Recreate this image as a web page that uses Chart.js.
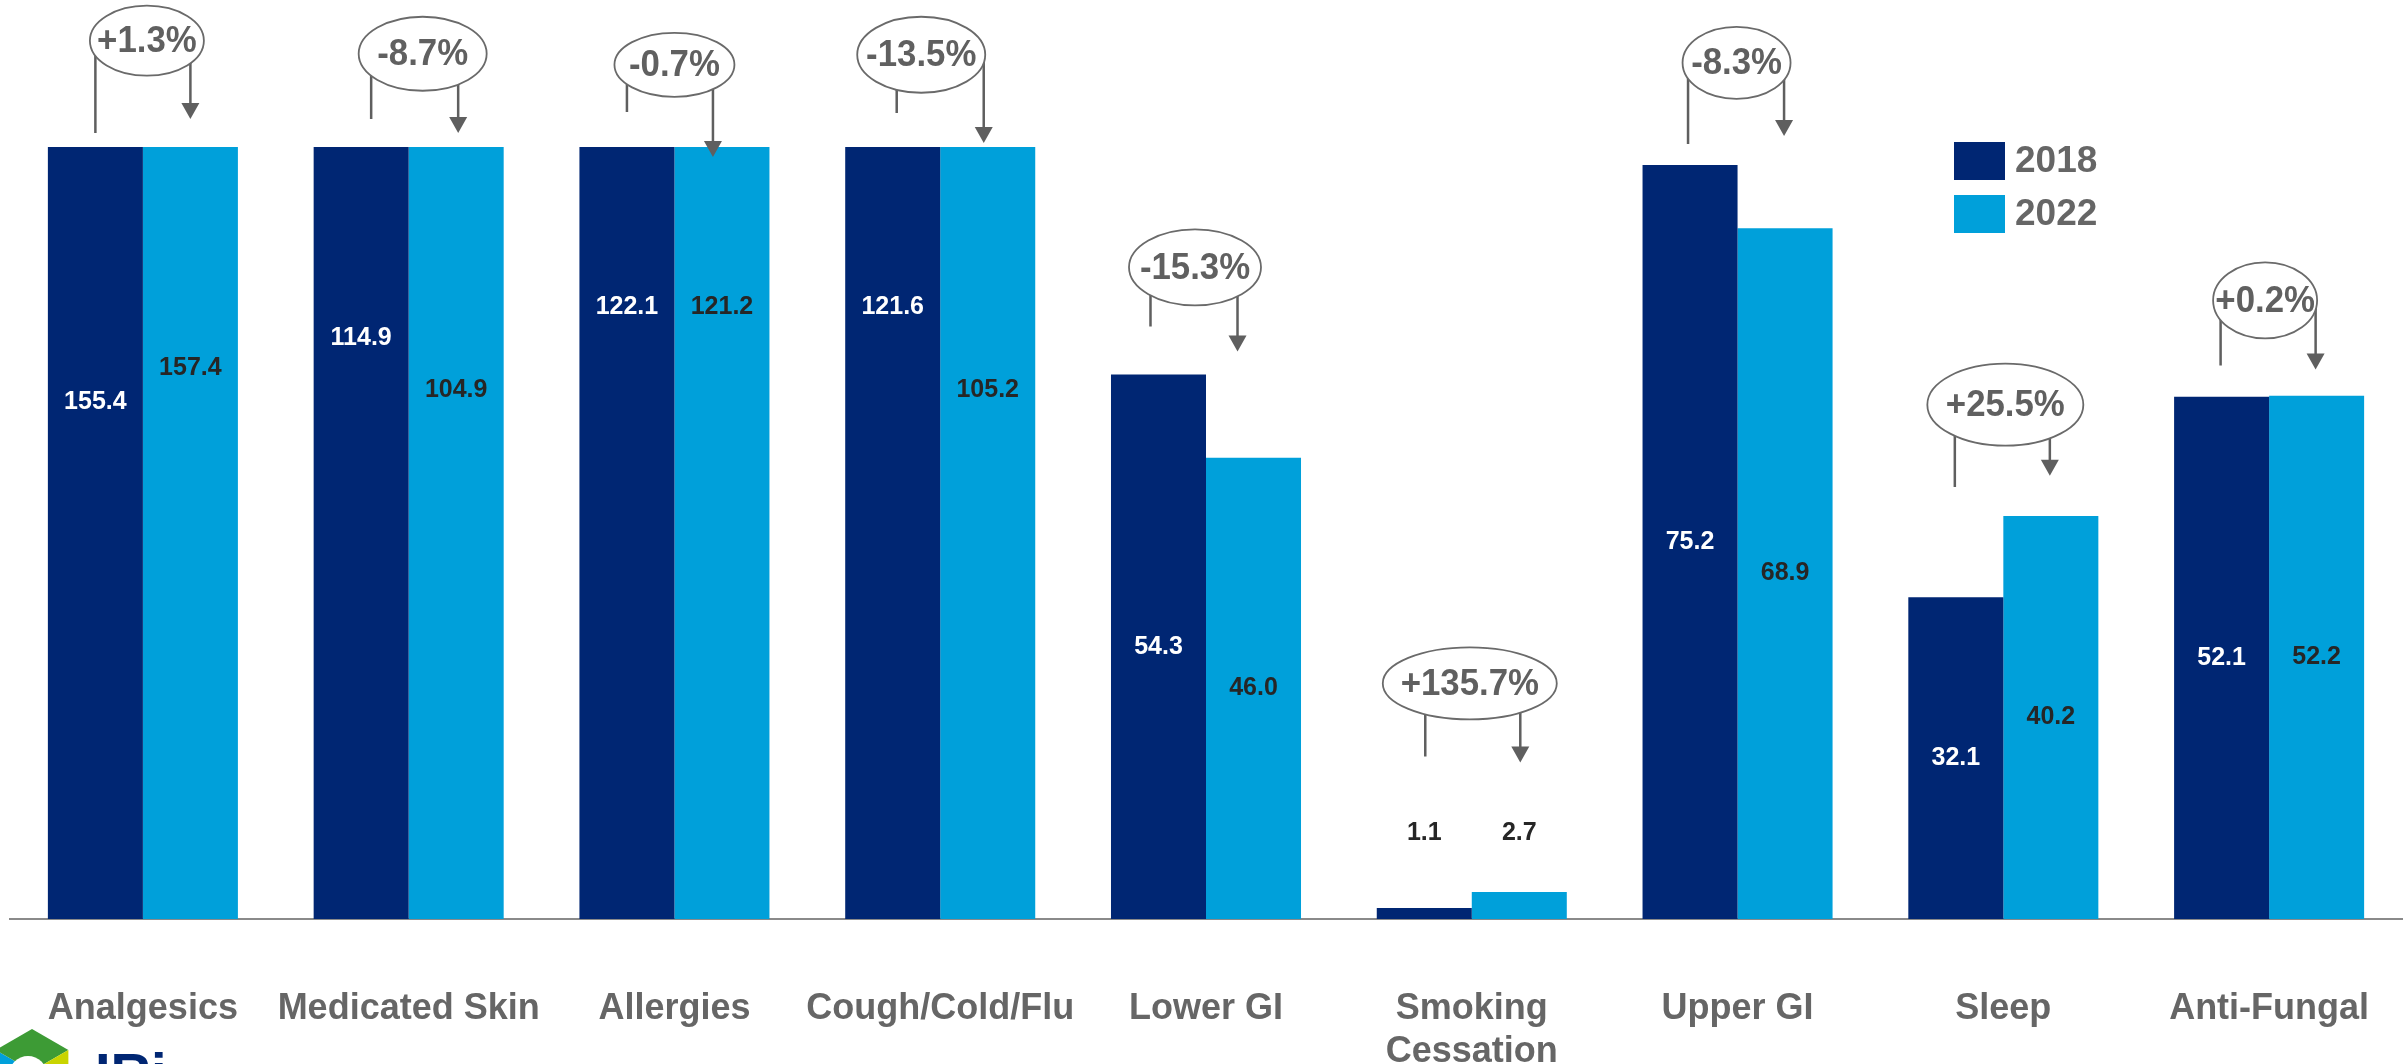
<!DOCTYPE html>
<html>
<head>
<meta charset="utf-8">
<script src="https://cdn.jsdelivr.net/npm/chart.js@4.4.1/dist/chart.umd.min.js"></script>
<style>
  html, body { margin: 0; padding: 0; background: #fff; }
  #wrap { width: 2407px; height: 1064px; position: relative; }
</style>
</head>
<body>
<div id="wrap"><canvas id="myChart"></canvas></div>
<script>
const categories = ["Analgesics", "Medicated Skin", "Allergies", "Cough/Cold/Flu", "Lower GI", ["Smoking", "Cessation"], "Upper GI", "Sleep", "Anti-Fungal"];
const values2018 = [155.4, 114.9, 122.1, 121.6, 54.3, 1.1, 75.2, 32.1, 52.1];
const values2022 = [157.4, 104.9, 121.2, 105.2, 46.0, 2.7, 68.9, 40.2, 52.2];
const changeLabels = ["+1.3%", "-8.7%", "-0.7%", "-13.5%", "-15.3%", "+135.7%", "-8.3%", "+25.5%", "+0.2%"];
const seriesNames = ["2018", "2022"];
// bars above this are cut off at the top, like the original slide
const axisMax = 77;

// where the value labels sit (in axis units); null = middle of the bar
const labelAt2018 = [51.6, 57.9, 61.0, 61.0, null, 8.6, null, null, null];
const labelAt2022 = [54.9, 52.8, 61.0, 52.8, null, 8.6, null, null, null];

// callout bubbles: ellipse centre / line ends in axis units, x shifts in px
const callouts = [
  { ey: 87.6, dx: 4, rx: 57, ry: 35, left: 78.4, tip: 79.8, ldx: 0, adx: 0 },
  { ey: 86.3, dx: 14, rx: 64, ry: 37, left: 79.8, tip: 78.4, ldx: 10, adx: 2 },
  { ey: 85.2, dx: 0, rx: 60, ry: 32, left: 80.5, tip: 76.0, ldx: 0, adx: -9 },
  { ey: 86.2, dx: -19, rx: 64, ry: 38, left: 80.4, tip: 77.4, ldx: 4, adx: -4 },
  { ey: 65.0, dx: -11, rx: 66, ry: 38, left: 59.1, tip: 56.6, ldx: -8, adx: -16 },
  { ey: 23.5, dx: -2, rx: 87, ry: 36, left: 16.2, tip: 15.6, ldx: 1, adx: 1 },
  { ey: 85.4, dx: -1, rx: 54, ry: 36, left: 77.3, tip: 78.1, ldx: -2, adx: -1 },
  { ey: 51.3, dx: 2, rx: 78, ry: 41, left: 43.1, tip: 44.2, ldx: -1, adx: -1 },
  { ey: 61.7, dx: -4, rx: 52, ry: 38, left: 55.2, tip: 54.8, ldx: -1, adx: -1 },
];

const navy = "#002673";
const cyan = "#00A0DA";
const gray = "#666666";
const fontFamily = "'Liberation Sans', Arial, sans-serif";

Chart.defaults.font.family = fontFamily;

const valueLabels = {
  id: "valueLabels",
  afterDatasetsDraw(chart) {
    const ctx = chart.ctx;
    const yScale = chart.scales.y;
    const area = chart.chartArea;
    const spots = [labelAt2018, labelAt2022];
    ctx.save();
    ctx.font = "bold 25px " + fontFamily;
    ctx.textAlign = "center";
    ctx.textBaseline = "middle";
    chart.data.datasets.forEach((ds, d) => {
      chart.getDatasetMeta(d).data.forEach((bar, i) => {
        const at = spots[d][i];
        let y;
        if (at === null) {
          y = (Math.max(bar.y, area.top) + bar.base) / 2;
        } else {
          y = yScale.getPixelForValue(at);
        }
        const inside = at === null || at < ds.data[i];
        ctx.fillStyle = d === 0 && inside ? "#ffffff" : "#262626";
        ctx.fillText(ds.data[i].toFixed(1), bar.x, y);
      });
    });
    ctx.restore();
  },
};

const changeCallouts = {
  id: "changeCallouts",
  afterDraw(chart) {
    const ctx = chart.ctx;
    const xScale = chart.scales.x;
    const yScale = chart.scales.y;
    const m0 = chart.getDatasetMeta(0).data;
    const m1 = chart.getDatasetMeta(1).data;
    ctx.save();
    callouts.forEach((c, i) => {
      const cx = xScale.getPixelForValue(i) + c.dx;
      const cy = yScale.getPixelForValue(c.ey);
      const lx = m0[i].x + c.ldx;
      const ax = m1[i].x + c.adx;
      const ly = yScale.getPixelForValue(c.left);
      const ty = yScale.getPixelForValue(c.tip);

      ctx.strokeStyle = "#5f5f5f";
      ctx.fillStyle = "#5f5f5f";
      ctx.lineWidth = 2.5;
      ctx.beginPath();
      ctx.moveTo(lx, cy);
      ctx.lineTo(lx, ly);
      ctx.moveTo(ax, cy);
      ctx.lineTo(ax, ty - 12);
      ctx.stroke();
      ctx.beginPath();
      ctx.moveTo(ax - 9, ty - 16);
      ctx.lineTo(ax + 9, ty - 16);
      ctx.lineTo(ax, ty);
      ctx.closePath();
      ctx.fill();

      ctx.beginPath();
      ctx.ellipse(cx, cy, c.rx, c.ry, 0, 0, Math.PI * 2);
      ctx.fillStyle = "#ffffff";
      ctx.fill();
      ctx.lineWidth = 1.8;
      ctx.strokeStyle = "#6a6a6a";
      ctx.stroke();

      // slightly narrowed, like the condensed look of the slide text
      ctx.save();
      ctx.translate(cx, cy + 1);
      ctx.scale(0.94, 1);
      ctx.fillStyle = "#606060";
      ctx.font = "bold 37px " + fontFamily;
      ctx.textAlign = "center";
      ctx.textBaseline = "middle";
      ctx.fillText(changeLabels[i], 0, 0);
      ctx.restore();
    });
    ctx.restore();
  },
};

const sideLegend = {
  id: "sideLegend",
  afterDraw(chart) {
    const ctx = chart.ctx;
    const colors = [navy, cyan];
    ctx.save();
    ctx.font = "bold 37px " + fontFamily;
    ctx.textBaseline = "middle";
    ctx.textAlign = "left";
    seriesNames.forEach((name, i) => {
      const top = 142 + i * 53;
      ctx.fillStyle = colors[i];
      ctx.fillRect(1954, top, 51, 38);
      ctx.fillStyle = gray;
      ctx.fillText(name, 2015, top + 20);
    });
    ctx.restore();
  },
};

const logo = {
  id: "logo",
  afterDraw(chart) {
    const ctx = chart.ctx;
    const cx = 32, cy = 1071, r = 42;
    const segColors = ["#3d9b35", "#c9d400", "#e8821e", "#00a0da", "#00a0da", "#3d9b35"];
    ctx.save();
    for (let k = 0; k < 6; k++) {
      const a0 = -Math.PI / 2 + k * Math.PI / 3;
      const a1 = a0 + Math.PI / 3;
      ctx.beginPath();
      ctx.moveTo(cx, cy);
      ctx.lineTo(cx + r * Math.cos(a0), cy + r * Math.sin(a0));
      ctx.lineTo(cx + r * Math.cos(a1), cy + r * Math.sin(a1));
      ctx.closePath();
      ctx.fillStyle = segColors[k];
      ctx.fill();
    }
    ctx.beginPath();
    ctx.arc(cx - 4, cy + 4, 19, 0, Math.PI * 2);
    ctx.fillStyle = "#ffffff";
    ctx.fill();
    ctx.fillStyle = navy;
    ctx.font = "bold 56px " + fontFamily;
    ctx.textBaseline = "alphabetic";
    ctx.fillText("IRi", 95, 1092);
    ctx.restore();
  },
};

const ctx = document.getElementById("myChart").getContext("2d");

const myChart = new Chart(ctx, {
  type: "bar",
  data: {
    labels: categories,
    datasets: [
      {
        label: seriesNames[0],
        data: values2018,
        backgroundColor: navy,
        borderWidth: 0,
      },
      {
        label: seriesNames[1],
        data: values2022,
        backgroundColor: cyan,
        borderWidth: 0,
      },
    ],
  },
  options: {
    responsive: true,
    maintainAspectRatio: false,
    animation: false,
    events: [],
    layout: { padding: { top: 147, left: 10, right: 5, bottom: 0 } },
    datasets: {
      bar: { categoryPercentage: 0.715, barPercentage: 1.0 },
    },
    plugins: {
      legend: { display: false },
      tooltip: { enabled: false },
    },
    scales: {
      x: {
        grid: { display: false, drawTicks: false },
        border: { display: true, color: "#8a8a8a", width: 2 },
        ticks: {
          color: gray,
          padding: 68,
          maxRotation: 0,
          autoSkip: false,
          font: { size: 36, weight: "bold" },
        },
        afterFit(scale) {
          scale.height = 145;
          // the big tick padding would otherwise push the bars inwards
          scale.paddingLeft = 0;
          scale.paddingRight = 0;
        },
      },
      y: {
        display: false,
        min: 0,
        max: axisMax,
      },
    },
  },
  plugins: [valueLabels, changeCallouts, sideLegend, logo],
});
</script>
</body>
</html>
